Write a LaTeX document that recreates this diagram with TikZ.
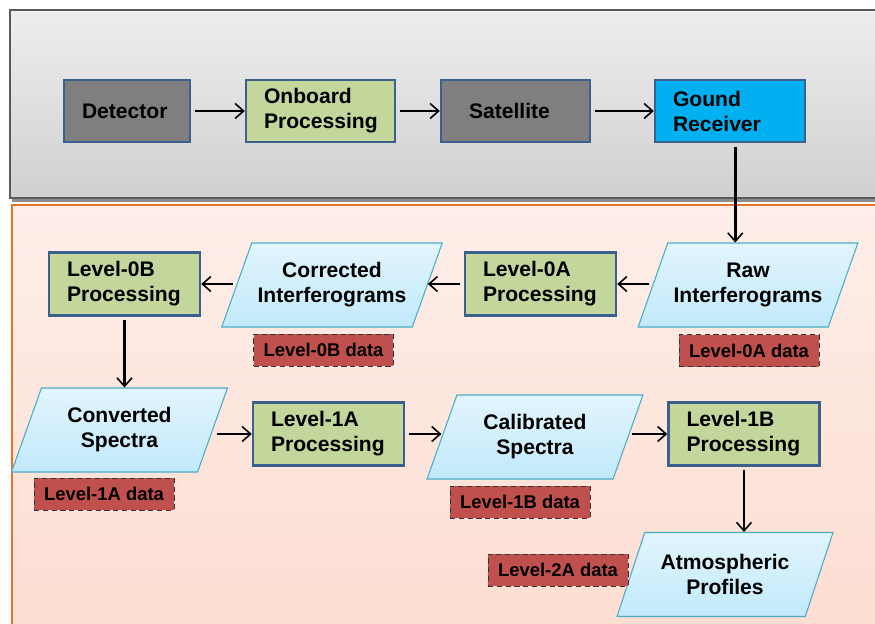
\documentclass[tikz,border=0pt]{standalone}
\usepackage{fontspec}
\setmainfont{Liberation Sans}
\usepackage{tikz}
\usetikzlibrary{positioning, arrows.meta, shapes.geometric}
\definecolor{panelTop}{RGB}{238, 238, 238}
\definecolor{panelBot}{RGB}{208, 208, 208}
\definecolor{panelEdge}{RGB}{90, 90, 90}
\definecolor{salmonTop}{RGB}{253, 238, 233}
\definecolor{salmonBot}{RGB}{253, 222, 210}
\definecolor{orangeEdge}{RGB}{228, 118, 40}
\definecolor{boxGray}{RGB}{127, 127, 127}
\definecolor{procGreen}{RGB}{195, 214, 155}
\definecolor{boxEdge}{RGB}{60, 96, 140}
\definecolor{recvBlue}{RGB}{0, 176, 240}
\definecolor{dataRed}{RGB}{192, 80, 77}
\definecolor{paraTop}{RGB}{226, 245, 253}
\definecolor{paraBot}{RGB}{193, 233, 251}
\definecolor{paraEdge}{RGB}{75, 172, 198}

\begin{document}
\begin{tikzpicture}[x=0.02cm, y=-0.02cm,
  >={Straight Barb[length=1.7mm, width=3mm, line width=0.9pt]},
  font=\bfseries\fontsize{12}{14.2}\selectfont,
  flow/.style={->, line width=1.5pt, shorten <=2pt},
  procbox/.style={rectangle, draw=boxEdge, line width=1.4pt, text width=#1,
    inner xsep=0.36cm, minimum height=1.26cm, align=left},
  procbox/.default=2.3cm,
  product/.style={trapezium, trapezium left angle=62, trapezium right angle=118,
    trapezium stretches body, draw=paraEdge, line width=0.6pt,
    top color=paraTop, bottom color=paraBot,
    minimum width=4.32cm, minimum height=1.68cm, align=center},
  datatag/.style={rectangle, draw=black!80, densely dashed, line width=0.5pt,
    fill=dataRed, minimum width=2.8cm, minimum height=0.64cm,
    font=\bfseries\fontsize{10.5}{12}\selectfont}]
  \useasboundingbox (0,0) rectangle (875,623);

  % Panels
  \fill[black!45] (12,196) rectangle (880,202);
  \shade[top color=panelTop, bottom color=panelBot, draw=panelEdge, line width=0.8pt]
    (10,10) rectangle (880,198);
  \shade[top color=salmonTop, bottom color=salmonBot] (12,205) rectangle (880,630);
  \draw[orangeEdge, line width=1pt] (880,205) -- (12,205) -- (12,630);

  % Space segment
  \node[procbox=1.8cm, fill=boxGray, minimum height=1.24cm] (det) at (127,111) {Detector};
  \node[procbox, fill=procGreen, text width=2.26cm, minimum height=1.24cm] (onboard) at (320.5,111) {Onboard\\Processing};
  \node[procbox, fill=boxGray, text width=1.86cm, inner xsep=0.56cm, minimum height=1.24cm] (sat) at (515.5,111) {Satellite};
  \node[procbox, fill=recvBlue, text width=2.28cm, minimum height=1.24cm] (recv) at (730,111) {Gound\\Receiver};

  % Level-0
  \node[product] (rawIfg) at (748,285) {Raw\\Interferograms};
  \node[procbox, fill=procGreen] (proc0A) at (540.5,284) {Level-0A\\Processing};
  \node[product] (corrIfg) at (332,285) {Corrected\\Interferograms};
  \node[procbox, fill=procGreen] (proc0B) at (124.5,284) {Level-0B\\Processing};
  \node[datatag] (data0A) at (749,350.5) {Level-0A data};
  \node[datatag] (data0B) at (323.5,350) {Level-0B data};

  % Level-1
  \node[product] (convSpec) at (119.5,430) {Converted\\Spectra};
  \node[procbox, fill=procGreen] (proc1A) at (328.5,434) {Level-1A\\Processing};
  \node[product] (calSpec) at (535,437) {Calibrated\\Spectra};
  \node[procbox, fill=procGreen] (proc1B) at (744,434) {Level-1B\\Processing};
  \node[datatag] (data1A) at (104,494) {Level-1A data};
  \node[datatag] (data1B) at (520,502) {Level-1B data};

  % Level-2
  \node[product] (atmProf) at (725,574.5) {Atmospheric\\Profiles};
  \node[datatag] (data2A) at (558,570) {Level-2A data};

  % Arrows
  \draw[flow] (det) -- (onboard);
  \draw[flow] (onboard) -- (sat);
  \draw[flow] (sat) -- (recv);
  \draw[flow] ([xshift=3pt]recv.south) -- ([xshift=3pt]recv.south |- rawIfg.north);
  \draw[flow] (rawIfg.west |- proc0A) -- (proc0A.east);
  \draw[flow] (proc0A.west) -- (proc0A.west -| corrIfg.east);
  \draw[flow] (corrIfg.west |- proc0B) -- (proc0B.east);
  \draw[flow] (proc0B.south) -- (proc0B.south |- convSpec.north);
  \draw[flow] (convSpec.east |- proc1A) -- (proc1A.west);
  \draw[flow] (proc1A.east) -- (proc1A.east -| calSpec.west);
  \draw[flow] (calSpec.east |- proc1B) -- (proc1B.west);
  \draw[flow] (proc1B.south) -- (proc1B.south |- atmProf.north);
\end{tikzpicture}
\end{document}
